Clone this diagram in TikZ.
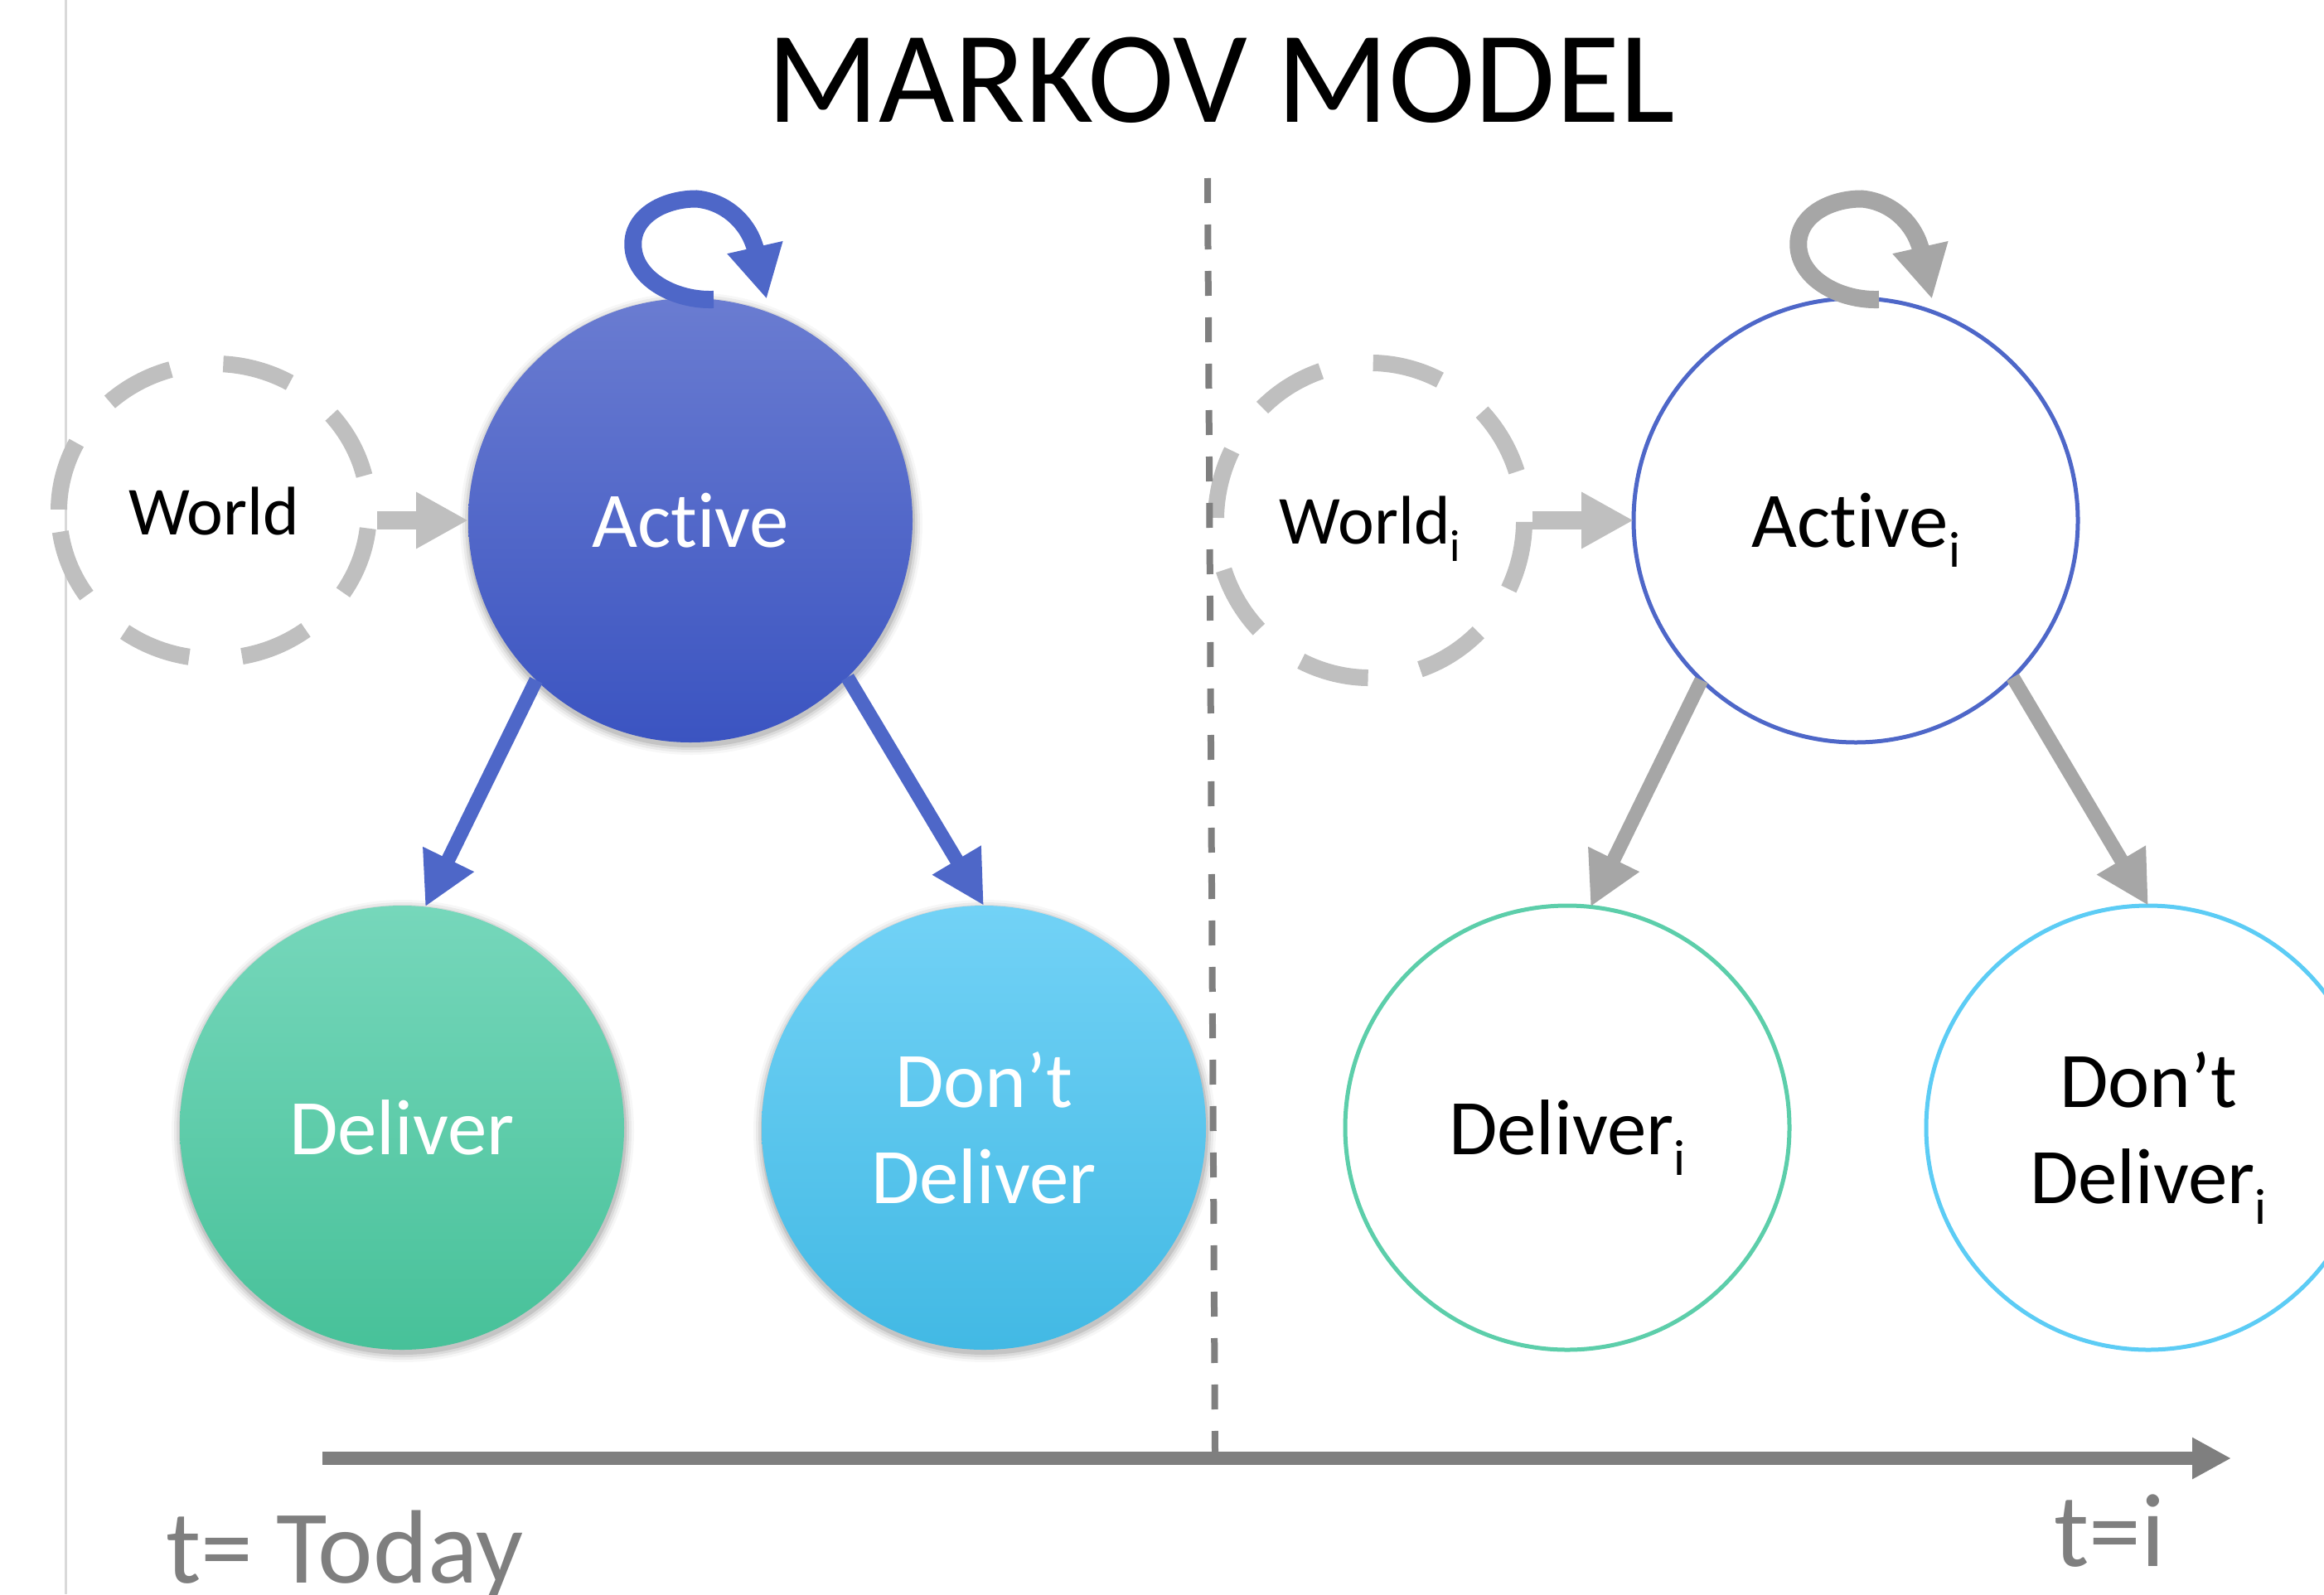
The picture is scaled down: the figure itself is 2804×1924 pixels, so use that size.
\documentclass[tikz,border=0pt]{standalone}
\usepackage{fontspec}
\setmainfont{Carlito}[Ligatures={NoCommon,NoContextual}]
\usetikzlibrary{arrows.meta,calc,shapes.geometric}

\definecolor{actTop}{RGB}{106,124,209}
\definecolor{actBot}{RGB}{59,84,193}
\definecolor{delTop}{RGB}{118,215,187}
\definecolor{delBot}{RGB}{71,193,153}
\definecolor{ddTop}{RGB}{114,210,246}
\definecolor{ddBot}{RGB}{66,185,228}
\definecolor{blueLine}{RGB}{78,103,200}
\definecolor{greenLine}{RGB}{92,206,170}
\definecolor{cyanLine}{RGB}{92,204,245}
\definecolor{midGray}{RGB}{166,166,166}
\definecolor{lightGray}{RGB}{191,191,191}
\definecolor{darkGray}{RGB}{127,127,127}
\definecolor{edgeGray}{RGB}{217,217,217}

% lowered index "i" that does not change the height of the label box
\newcommand\lowi[2]{\smash{\raisebox{-#2pt}{\fontsize{#1}{#1}\selectfont i}}}
% soft shadow under a filled state circle
\newcommand\circleshadow[1]{%
  \foreach \rr/\oo in {270/0.10,273/0.07,276/0.05,279/0.03}{%
    \fill[black,opacity=\oo] ([shift={(1pt,-4pt)}]#1) circle[radius=\rr pt];}}

\begin{document}
\begin{tikzpicture}[x=1pt, y=-1pt,
  state/.style={circle, minimum size=536pt, inner sep=0pt, outer sep=0pt,
    align=center, font=\fontsize{95}{116}\selectfont},
  filledstate/.style={state, text=white},
  ringstate/.style={state, draw=#1, line width=5pt, fill=white},
  worldnode/.style={ellipse, inner sep=0pt, outer sep=0pt,
    font=\fontsize{83}{100}\selectfont},
  worldring/.style={draw=lightGray, line width=20pt, dash pattern=on 84pt off 64pt},
  feedArrow/.style={draw=lightGray, line width=22pt, -{Triangle[length=63pt,width=64pt]}},
  blueArrow/.style={draw=blueLine, line width=17pt, -{Triangle[length=64pt,width=64pt]}},
  grayArrow/.style={draw=midGray, line width=17pt, -{Triangle[length=64pt,width=64pt]}},
  loopArrow/.style={draw=#1, line width=21pt, -{Triangle[length=64pt,width=64pt]}},
  divider/.style={draw=darkGray, line width=8pt, dash pattern=on 30pt off 26pt},
  axisArrow/.style={draw=darkGray, line width=16pt, -{Triangle[length=47pt,width=47pt]}},
  timelabel/.style={anchor=base west, inner sep=0pt, text=darkGray,
    font=\fontsize{126}{126}\selectfont}
]
\useasboundingbox (0,0) rectangle (2804,1924);

% thin page edge on the left
\coordinate (e0) at (79,0);
\coordinate (e1) at (79,1924);
\draw[edgeGray, line width=3pt] (e0) -- (e1);

% state centres
\coordinate (cAct)  at (833,628);
\coordinate (cDel)  at (485,1361);
\coordinate (cDD)   at (1187,1361);
\coordinate (cActI) at (2239,628);
\coordinate (cDelI) at (1891,1361);
\coordinate (cDDI)  at (2592,1361);

% shadows of the filled states
\circleshadow{cAct}
\circleshadow{cDel}
\circleshadow{cDD}

% states at t = today
\node[filledstate, top color=actTop, bottom color=actBot] (Act) at (cAct) {Active};
\node[filledstate, top color=delTop, bottom color=delBot] (Del) at (cDel) {Deliver};
\node[filledstate, top color=ddTop, bottom color=ddBot] (DD) at (cDD) {Don’t\\Deliver};

% states at t = i
\node[ringstate=blueLine]  (ActI) at (cActI) {Active\lowi{61}{24}};
\node[ringstate=greenLine] (DelI) at (cDelI) {Deliver\lowi{61}{25}};
\node[ringstate=cyanLine]  (DDI)  at (cDDI)  {Don’t\\Deliver\lowi{61}{25}};

% world inputs (dashed rings)
\node[worldnode, minimum width=394pt, minimum height=376pt] (World) at (258,617) {World};
\draw[worldring] ([shift={(188:187pt and 178pt)}]World.center)
  arc[start angle=188, delta angle=352, x radius=187pt, y radius=178pt];
\node[worldnode, minimum width=392pt, minimum height=400pt] (WorldI) at (1653,628) {World\lowi{54}{21}};
\draw[worldring] ([shift={(18:186pt and 190pt)}]WorldI.center)
  arc[start angle=18, delta angle=360, x radius=186pt, y radius=190pt];

% divider between the two time steps
\coordinate (d0) at (1457,215);
\coordinate (d1) at (1466,1752);
\draw[divider] (d0) -- (d1);

% time axis
\coordinate (t0) at (389,1760);
\coordinate (t1) at (2692,1760);
\draw[axisArrow] (t0) -- (t1);

% transitions at t = today
\draw[feedArrow] (World.east |- Act.west) -- (Act.west);
\draw[blueArrow] (Act.226) -- (Del.84);
\draw[blueArrow] (Act.315) -- (DD.90);
\begin{scope}[shift={(Act.center)}]
  \draw[loopArrow=blueLine] (Act.84) .. controls (-18,-265) and (-65,-290) .. (-69,-328)
    .. controls (-73,-366) and (-33,-388) .. (7,-388)
    .. controls (42,-385) and (69,-360) .. (78,-329) -- (92,-267);
\end{scope}

% transitions at t = i
\draw[feedArrow] (WorldI.east |- ActI.west) -- (ActI.west);
\draw[grayArrow] (ActI.226) -- (DelI.84);
\draw[grayArrow] (ActI.315) -- (DDI.90);
\begin{scope}[shift={(ActI.center)}]
  \draw[loopArrow=midGray] (ActI.84) .. controls (-18,-265) and (-65,-290) .. (-69,-328)
    .. controls (-73,-366) and (-33,-388) .. (7,-388)
    .. controls (42,-385) and (69,-360) .. (78,-329) -- (92,-267);
\end{scope}

% title and time labels
\node[anchor=base, inner sep=0pt, font=\fontsize{158}{158}\selectfont] (title) at (1473,147) {MARKOV MODEL};
\node[timelabel] (today) at (200,1910) {t= Today};
\node[timelabel] (ti) at (2478,1890) {t=i};
\end{tikzpicture}
\end{document}
